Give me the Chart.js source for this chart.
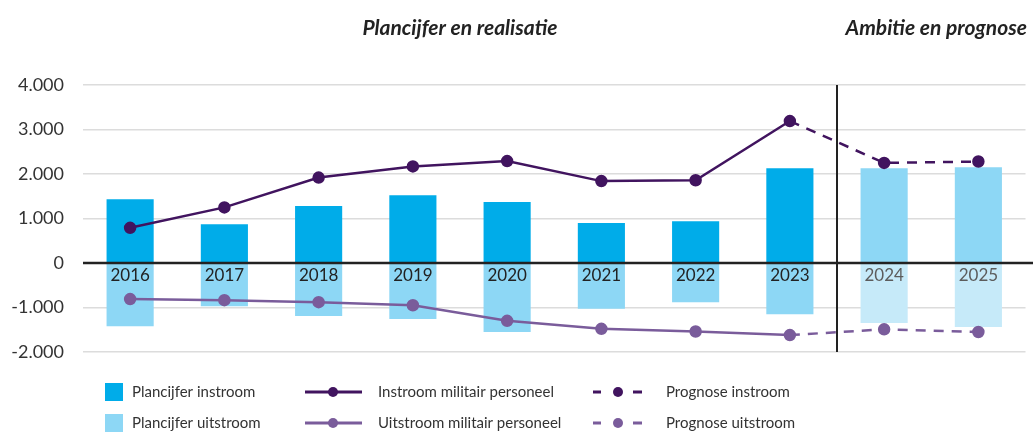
<!DOCTYPE html>
<html>
<head>
<meta charset="utf-8">
<script src="https://cdn.jsdelivr.net/npm/chart.js@4.4.1/dist/chart.umd.min.js"></script>
<style>
  html, body { margin: 0; padding: 0; background: #fff; }
  #wrap { width: 1033px; height: 432px; }
</style>
</head>
<body>
<div id="wrap"><canvas id="chart" width="1033" height="432"></canvas></div>
<script>
(function(){

    // data
    const years = ['2016', '2017', '2018', '2019', '2020', '2021', '2022', '2023', '2024', '2025'];
    const isForecast = [false, false, false, false, false, false, false, false, true, true];
    const plancijferInstroom = [1430, 870, 1280, 1520, 1370, 900, 940, 2130, 2130, 2150];
    const plancijferUitstroom = [-1420, -970, -1190, -1260, -1550, -1030, -880, -1150, -1350, -1440];
    const instroomMilitair = [790, 1250, 1920, 2170, 2290, 1840, 1860, 3190, null, null];
    const uitstroomMilitair = [-810, -835, -880, -950, -1300, -1480, -1540, -1620, null, null];
    const prognoseInstroom = [null, null, null, null, null, null, null, 3190, 2250, 2280];
    const prognoseUitstroom = [null, null, null, null, null, null, null, -1620, -1490, -1550];
    const yTicks = [4000, 3000, 2000, 1000, 0, -1000, -2000];

    const FONT = 'Lato, "Noto Sans", sans-serif';
    const blue = '#00ACE9', lightBlue = '#8DD7F5', paleBlue = '#C6EAF9';
    const darkPurple = '#41145F', purple = '#7A5C9B';

    function dots(n) { return n.replace(/\B(?=(\d{3})+(?!\d))/g, '.'); }

    // year labels on the zero line, drawn over the bars
    const yearLabels = {
        id: 'yearLabels',
        afterDatasetsDraw(chart) {
            const ctx = chart.ctx, x = chart.scales.x, y = chart.scales.y;
            const y0 = y.getPixelForValue(0);
            ctx.save();
            ctx.strokeStyle = '#222';
            ctx.lineWidth = 2.5;
            ctx.beginPath();
            ctx.moveTo(chart.chartArea.left, y0);
            ctx.lineTo(chart.width, y0);
            ctx.stroke();
            ctx.font = '17px ' + FONT;
            ctx.textAlign = 'center';
            ctx.textBaseline = 'middle';
            years.forEach((yr, i) => {
                ctx.fillStyle = isForecast[i] ? '#5c5c5c' : '#222';
                ctx.fillText(yr, x.getPixelForValue(i), y0 + 13);
            });
            ctx.restore();
        }
    };

    // titles, separator line and legend
    const extras = {
        id: 'extras',
        afterDraw(chart) {
            const ctx = chart.ctx, x = chart.scales.x, y = chart.scales.y;
            const sepX = (x.getPixelForValue(7) + x.getPixelForValue(8)) / 2;
            ctx.save();
            ctx.strokeStyle = '#222';
            ctx.lineWidth = 2;
            ctx.beginPath();
            ctx.moveTo(sepX, y.getPixelForValue(4000));
            ctx.lineTo(sepX, y.getPixelForValue(-2000));
            ctx.stroke();

            ctx.fillStyle = '#222';
            ctx.font = 'italic bold 21px ' + FONT;
            ctx.textBaseline = 'middle';
            ctx.textAlign = 'center';
            ctx.fillText('Plancijfer en realisatie', (chart.chartArea.left + sepX) / 2, 28);
            ctx.fillText('Ambitie en prognose', (sepX + chart.chartArea.right) / 2 + 5, 28);

            // legend
            ctx.font = '15px ' + FONT;
            ctx.textAlign = 'left';
            const rows = [392, 423];
            ctx.fillStyle = blue; ctx.fillRect(105, rows[0] - 9, 18, 18);
            ctx.fillStyle = lightBlue; ctx.fillRect(105, rows[1] - 9, 18, 18);
            ctx.fillStyle = '#333';
            ctx.fillText('Plancijfer instroom', 132, rows[0]);
            ctx.fillText('Plancijfer uitstroom', 132, rows[1]);

            const lineItem = (cy, col, dashed) => {
                ctx.strokeStyle = col; ctx.fillStyle = col; ctx.lineWidth = 3;
                ctx.beginPath();
                if (dashed) {
                    ctx.moveTo(593, cy); ctx.lineTo(601, cy);
                    ctx.moveTo(633, cy); ctx.lineTo(642, cy);
                } else {
                    ctx.moveTo(305, cy); ctx.lineTo(362, cy);
                }
                ctx.stroke();
                ctx.beginPath();
                ctx.arc(dashed ? 618 : 333, cy, 5, 0, Math.PI * 2);
                ctx.fill();
            };
            lineItem(rows[0], darkPurple, false);
            lineItem(rows[1], purple, false);
            lineItem(rows[0], darkPurple, true);
            lineItem(rows[1], purple, true);
            ctx.fillStyle = '#333';
            ctx.fillText('Instroom militair personeel', 378, rows[0]);
            ctx.fillText('Uitstroom militair personeel', 378, rows[1]);
            ctx.fillText('Prognose instroom', 666, rows[0]);
            ctx.fillText('Prognose uitstroom', 666, rows[1]);
            ctx.restore();
        }
    };

    const lineBase = { type: 'line', borderWidth: 2.5, pointRadius: 5, pointHoverRadius: 5, tension: 0, spanGaps: false };

    new Chart(document.getElementById('chart'), {
        type: 'bar',
        data: {
            labels: years,
            datasets: [
                { ...lineBase, label: 'Instroom militair personeel', data: instroomMilitair, borderColor: darkPurple, backgroundColor: darkPurple, order: 1 },
                { ...lineBase, label: 'Uitstroom militair personeel', data: uitstroomMilitair, borderColor: purple, backgroundColor: purple, order: 1 },
                { ...lineBase, label: 'Prognose instroom', data: prognoseInstroom, borderColor: darkPurple, backgroundColor: darkPurple, borderDash: [10, 8],
                  pointRadius: prognoseInstroom.map((v, i) => isForecast[i] ? 5 : 0), order: 1 },
                { ...lineBase, label: 'Prognose uitstroom', data: prognoseUitstroom, borderColor: purple, backgroundColor: purple, borderDash: [10, 8],
                  pointRadius: prognoseUitstroom.map((v, i) => isForecast[i] ? 5 : 0), order: 1 },
                { label: 'Plancijfer instroom', data: plancijferInstroom, grouped: false, order: 2,
                  backgroundColor: isForecast.map(f => f ? lightBlue : blue) },
                { label: 'Plancijfer uitstroom', data: plancijferUitstroom, grouped: false, order: 2,
                  backgroundColor: isForecast.map(f => f ? paleBlue : lightBlue) }
            ]
        },
        options: {
            responsive: false,
            animation: false,
            events: [],
            layout: { padding: { top: 85, bottom: 80, left: 0, right: 4 } },
            datasets: { bar: { categoryPercentage: 1, barPercentage: 0.5 } },
            plugins: { legend: { display: false }, tooltip: { enabled: false } },
            scales: {
                x: {
                    display: false
                },
                y: {
                    min: yTicks[yTicks.length - 1],
                    max: yTicks[0],
                    afterFit: s => { s.width = 83; },
                    afterBuildTicks: s => { s.ticks = yTicks.map(v => ({ value: v })); },
                    grid: { color: '#dcdcdc', lineWidth: 1.5, drawTicks: false },
                    border: { display: false },
                    ticks: {
                        padding: 19,
                        font: { family: FONT, size: 18 },
                        color: '#333',
                        callback: v => dots(String(v))
                    }
                }
            }
        },
        plugins: [yearLabels, extras]
    });
})();
</script>
</body>
</html>
